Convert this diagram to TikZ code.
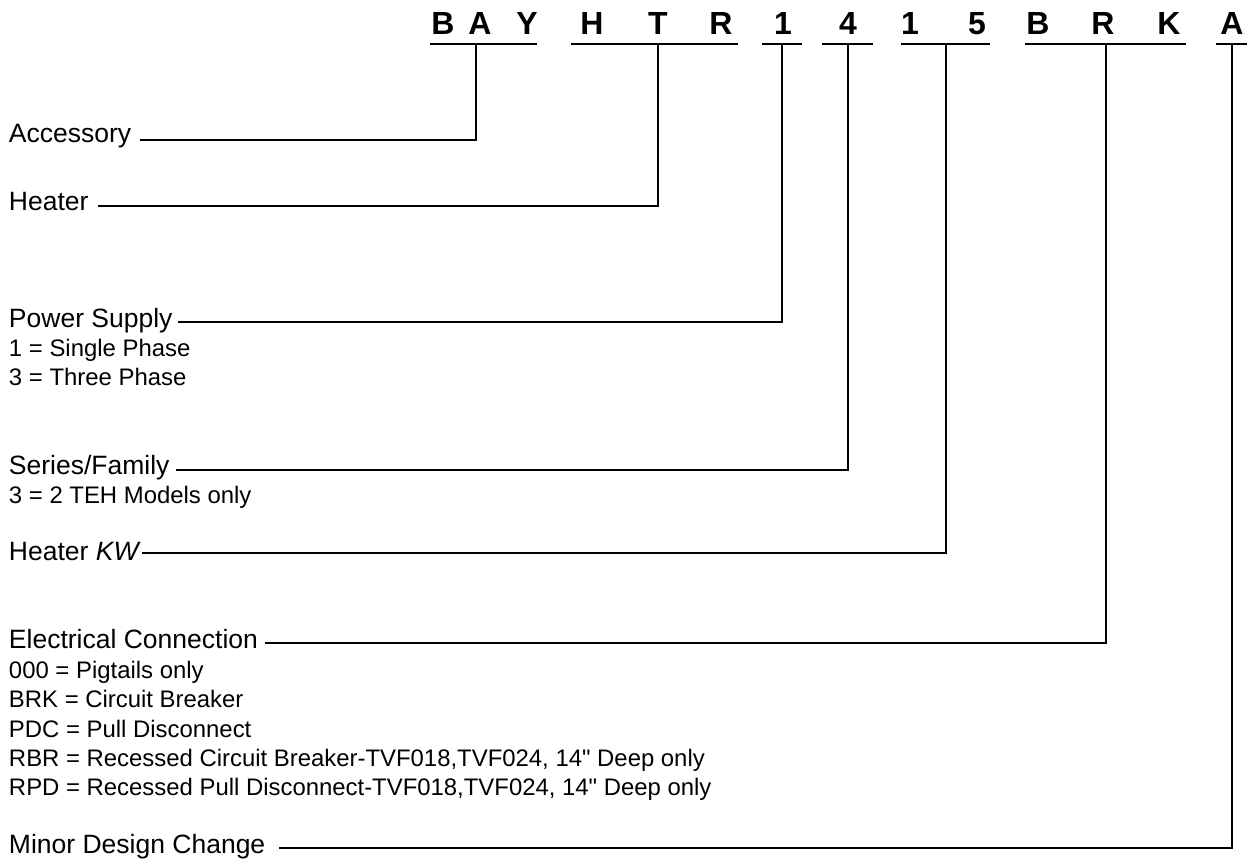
\documentclass[tikz,border=0pt]{standalone}
\usepackage{fontspec}
\setmainfont{Liberation Sans}
\usetikzlibrary{calc}

\begin{document}
\begin{tikzpicture}[
  every node/.style={inner sep=0pt, outer sep=0pt},
  digit/.style={font=\fontsize{9.1}{10}\selectfont\bfseries, anchor=base},
  fieldlab/.style={font=\fontsize{7.54}{9}\selectfont, anchor=base west},
  optlab/.style={font=\fontsize{6.8}{8}\selectfont, anchor=base west},
  leader/.style={line width=0.5pt},
]
\useasboundingbox (0,0) rectangle (12.47,-8.63);

% --- Model number across the top ---
\foreach \x/\c [count=\i] in {4.43/B, 4.80/A, 5.27/Y, 5.92/H, 6.58/T, 7.21/R, 7.83/1,
    8.48/4, 9.10/1, 9.77/5, 10.38/B, 11.03/R, 11.69/K, 12.32/A}
  \node[digit] (d\i) at (\x, -0.34) {\c};

% underline under each field group
\foreach \a/\b in {4.30/5.37, 5.71/7.38, 7.62/8.02, 8.22/8.73, 9.01/9.90, 10.25/11.86, 12.16/12.47}
  \draw[leader] (\a, -0.44) -- (\b, -0.44);

% tap points where the leaders meet the underlines
\coordinate (tAcc) at (4.76, -0.44);
\coordinate (tHtr) at (6.58, -0.44);
\coordinate (tPwr) at (7.82, -0.44);
\coordinate (tSer) at (8.48, -0.44);
\coordinate (tKW)  at (9.46, -0.44);
\coordinate (tElc) at (11.06, -0.44);
\coordinate (tMdc) at (12.32, -0.44);

% --- Field names ---
\node[fieldlab] (acc) at (0.09, -1.425) {Accessory};
\node[fieldlab] (htr) at (0.09, -2.10) {Heater};
\node[fieldlab] (pwr) at (0.09, -3.27) {Power Supply};
\node[fieldlab] (ser) at (0.09, -4.74) {Series/Family};
\node[fieldlab] (kw)  at (0.09, -5.60) {Heater \textit{KW}};
\node[fieldlab] (elc) at (0.09, -6.48) {Electrical Connection};
\node[fieldlab] (mdc) at (0.09, -8.53) {Minor Design Change};

% --- Option codes under the fields ---
\node[optlab] (pwr1) at (0.09, -3.56) {1 = Single Phase};
\node[optlab] (pwr3) at (0.09, -3.85) {3 = Three Phase};
\node[optlab] (ser3) at (0.09, -5.03) {3 = 2 TEH Models only};
\node[optlab] (elc1) at (0.09, -6.78) {000 = Pigtails only};
\node[optlab] (elc2) at (0.09, -7.07) {BRK = Circuit Breaker};
\node[optlab] (elc3) at (0.09, -7.37) {PDC = Pull Disconnect};
\node[optlab] (elc4) at (0.09, -7.66) {RBR = Recessed Circuit Breaker-TVF018,TVF024, 14\textquotedbl{} Deep only};
\node[optlab] (elc5) at (0.09, -7.95) {RPD = Recessed Pull Disconnect-TVF018,TVF024, 14\textquotedbl{} Deep only};

% --- Leaders from field name up to its group ---
\foreach \lab/\gx/\gy/\tap in {acc/0.09/0.025/tAcc, htr/0.095/0.04/tHtr, pwr/0.055/0.05/tPwr,
    ser/0.065/0.04/tSer, kw/0.01/0.07/tKW, elc/0.07/0.05/tElc, mdc/0.14/0.05/tMdc}
  \draw[leader] ([xshift=\gx cm, yshift=\gy cm]\lab.base east) -| (\tap);

\end{tikzpicture}
\end{document}
